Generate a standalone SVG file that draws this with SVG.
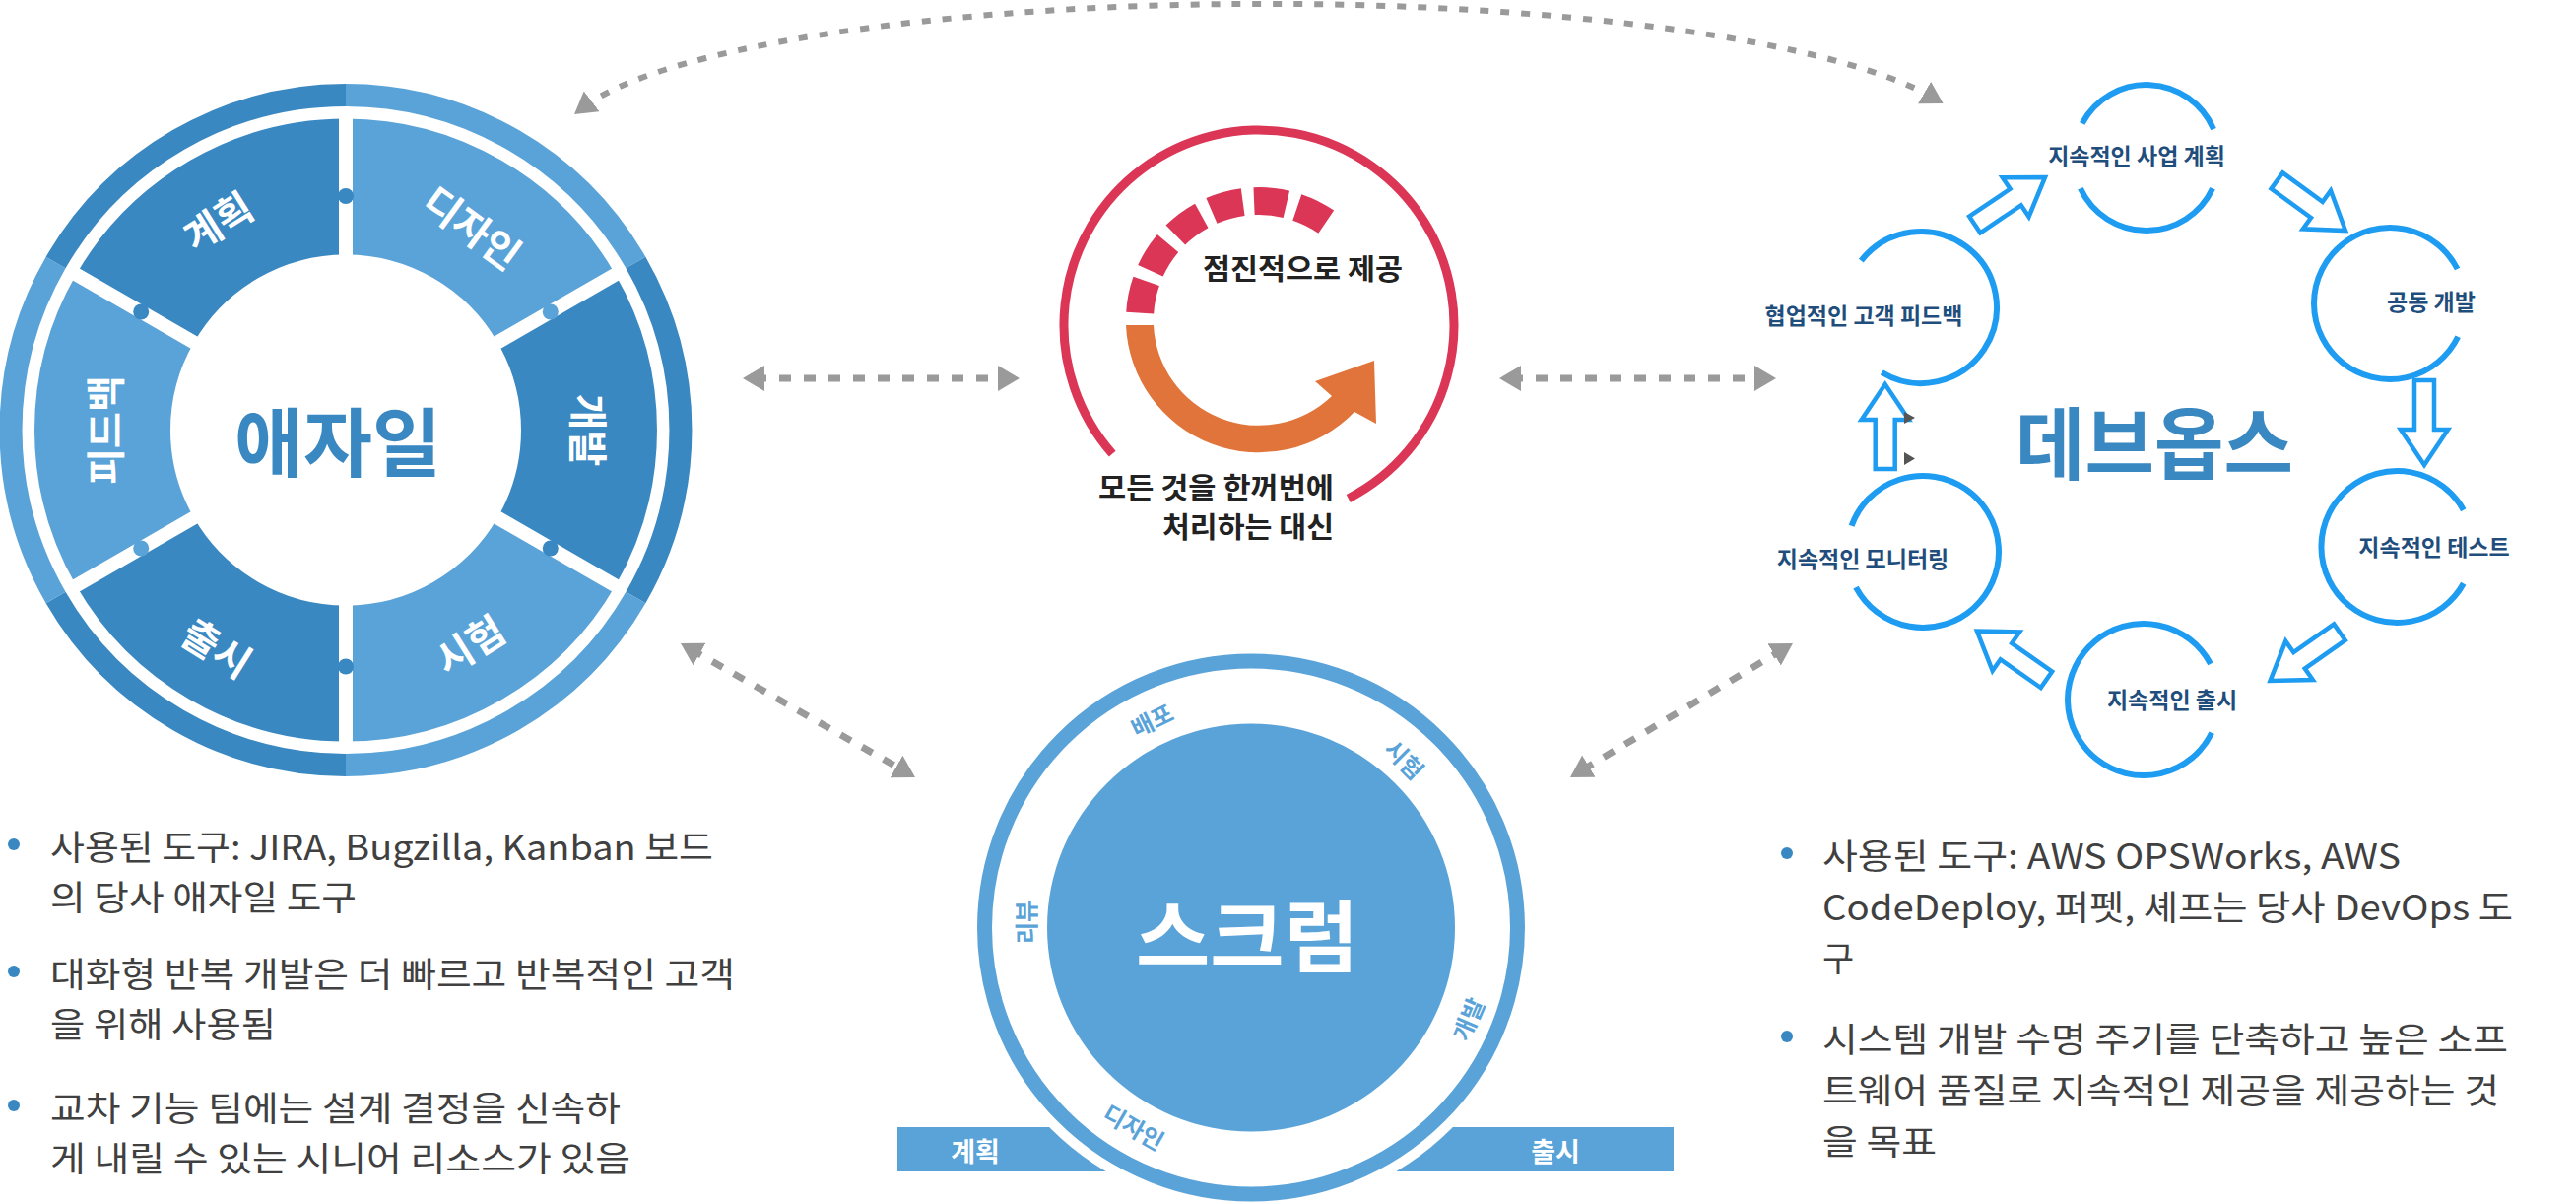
<svg xmlns="http://www.w3.org/2000/svg" xmlns:xlink="http://www.w3.org/1999/xlink" width="2615" height="1220" viewBox="0 0 2615 1220">
<style>
.k{font-family:"Noto Sans CJK KR","Noto Sans",sans-serif}
.b{font-weight:700}
.c{dominant-baseline:central;text-anchor:middle}
.dk{stroke:#3a88c2;fill:none}
.lt{stroke:#5aa3d8;fill:none}
.seg{stroke-width:138}
.ring{stroke-width:23}
.gap{stroke:#fff;stroke-width:14}
.wl{fill:#fff;font-size:40px}
.dash{fill:none;stroke:#9a9a9a;stroke-width:7;stroke-dasharray:12 13;marker-start:url(#ah);marker-end:url(#ah)}
.dv{fill:none;stroke:#1e9cf2;stroke-width:6}
.dl{fill:#1f4e7d;font-size:23px}
.ba{fill:#fff;stroke:#1e9cf2;stroke-width:4.5}
.sl{fill:#5aa3d9;font-size:24px}
.bt{fill:#404040;font-size:35px;dominant-baseline:central}
.bul{fill:#3a88c2}
.it{fill:#222;font-size:29px;dominant-baseline:central}
</style>
<defs>
<marker id="ah" viewBox="0 0 22 26" refX="10" refY="13" markerWidth="22" markerHeight="26" markerUnits="userSpaceOnUse" orient="auto-start-reverse"><path d="M0 0 L22 13 L0 26 Z" fill="#9a9a9a"/></marker>
<path id="barrow" d="M0 -10 L50 -10 L50 -24 L86 0 L50 24 L50 10 L0 10 Z"/>
</defs>

<g id="connectors">
<path class="dash" style="stroke-width:6;stroke-dasharray:9 12" d="M592.6 108.8 A715 140 0 0 1 1962.2 99.1"/>
<path class="dash" d="M766 384 L1023 384"/>
<path class="dash" d="M1534 384 L1791 384"/>
<path class="dash" d="M701.4 659 L918.6 783"/>
<path class="dash" d="M1809.7 659.2 L1604.3 782.8"/>
</g>

<g id="agile">
<path class="lt ring" d="M351 96.5 A340 340 0 0 1 645.4 266.5"/>
<path class="dk ring" d="M645.4 266.5 A340 340 0 0 1 645.4 606.5"/>
<path class="lt ring" d="M645.4 606.5 A340 340 0 0 1 351 776.5"/>
<path class="dk ring" d="M351 776.5 A340 340 0 0 1 56.6 606.5"/>
<path class="lt ring" d="M56.6 606.5 A340 340 0 0 1 56.6 266.5"/>
<path class="dk ring" d="M56.6 266.5 A340 340 0 0 1 351 96.5"/>
<path class="lt seg" d="M351 189.5 A247 247 0 0 1 564.9 313"/>
<path class="dk seg" d="M564.9 313 A247 247 0 0 1 564.9 560"/>
<path class="lt seg" d="M564.9 560 A247 247 0 0 1 351 683.5"/>
<path class="dk seg" d="M351 683.5 A247 247 0 0 1 137.1 560"/>
<path class="lt seg" d="M137.1 560 A247 247 0 0 1 137.1 313"/>
<path class="dk seg" d="M137.1 313 A247 247 0 0 1 351 189.5"/>
<g class="gap">
<line x1="351" y1="262" x2="351" y2="110"/>
<line x1="498.2" y1="351.5" x2="630" y2="275.5"/>
<line x1="498.2" y1="521.5" x2="630" y2="597.5"/>
<line x1="351" y1="611" x2="351" y2="763"/>
<line x1="203.8" y1="521.5" x2="72" y2="597.5"/>
<line x1="203.8" y1="351.5" x2="72" y2="275.5"/>
</g>
<circle cx="351" cy="199" r="8" fill="#3a88c2"/>
<circle cx="558.8" cy="316.5" r="8" fill="#5aa3d8"/>
<circle cx="558.8" cy="556.5" r="8" fill="#3a88c2"/>
<circle cx="351" cy="676.5" r="8" fill="#3a88c2"/>
<circle cx="143.2" cy="556.5" r="8" fill="#5aa3d8"/>
<circle cx="143.2" cy="316.5" r="8" fill="#3a88c2"/>
<text class="k b c wl" transform="translate(220.4 223.3) rotate(-32)">계획</text>
<text class="k b c wl" transform="translate(480.3 229.6) rotate(36)">디자인</text>
<text class="k b c wl" transform="translate(599 436.5) rotate(90)">개발</text>
<text class="k b c wl" transform="translate(476 653) rotate(-32)">시험</text>
<text class="k b c wl" transform="translate(221.2 656) rotate(32)">출시</text>
<text class="k b c wl" transform="translate(105 436.5) rotate(-90)">피드백</text>
<text class="k b c" x="343" y="445" font-size="76" fill="#3a88c2" textLength="210" lengthAdjust="spacingAndGlyphs">애자일</text>
</g>

<g id="incremental">
<path d="M1368.8 505.9 A198 198 0 1 0 1129.2 460.6" fill="none" stroke="#dc3656" stroke-width="9"/>
<path d="M1157.2 317.6 A121 121 0 0 1 1346.5 225.3" fill="none" stroke="#dc3656" stroke-width="28" stroke-dasharray="33 11.4"/>
<path d="M1143 330 A135 135 0 0 0 1375 418 L1397 430 L1395 366 L1335 387 L1352 402 A107 107 0 0 1 1171 330 Z" fill="#e1743a"/>
<text class="k b it" x="1221" y="271" textLength="203" lengthAdjust="spacingAndGlyphs">점진적으로 제공</text>
<text class="k b it" x="1354" y="493" text-anchor="end" textLength="239" lengthAdjust="spacingAndGlyphs">모든 것을 한꺼번에</text>
<text class="k b it" x="1354" y="533" text-anchor="end" textLength="174" lengthAdjust="spacingAndGlyphs">처리하는 대신</text>
</g>

<g id="devops">
<path class="dv" d="M2113.7 125.3 A74 74 0 0 1 2247.1 131.1"/>
<path class="dv" d="M2246.1 191.3 A74 74 0 0 1 2111.9 191.3"/>
<path class="dv" d="M2495.2 341.8 A77 77 0 1 1 2494.6 273"/>
<path class="dv" d="M2500.8 592.3 A77 77 0 1 1 2500.8 517.7"/>
<path class="dv" d="M2245.2 743.8 A77 77 0 1 1 2244 673.9"/>
<path class="dv" d="M1879.6 533.7 A77 77 0 1 1 1884 596.1"/>
<path class="dv" d="M1889.3 264.6 A77 77 0 1 1 1910.3 378"/>
<use href="#barrow" class="ba" transform="translate(2004.7 228) rotate(-34)"/>
<use href="#barrow" class="ba" transform="translate(2311.4 183.5) rotate(36)"/>
<use href="#barrow" class="ba" transform="translate(2461 386) rotate(90)"/>
<use href="#barrow" class="ba" transform="translate(2375 641.7) rotate(145)"/>
<use href="#barrow" class="ba" transform="translate(2077.4 689.8) rotate(-145)"/>
<use href="#barrow" class="ba" transform="translate(1913.7 476) rotate(-90)"/>
<polygon points="1933,418 1944,424 1933,430" fill="#555"/>
<polygon points="1933,459 1944,465.5 1933,472" fill="#555"/>
<text class="k b c dl" x="2169" y="157">지속적인 사업 계획</text>
<text class="k b c dl" x="2468" y="305">공동 개발</text>
<text class="k b c dl" x="2471" y="554">지속적인 테스트</text>
<text class="k b c dl" x="2205" y="709">지속적인 출시</text>
<text class="k b c dl" x="1891" y="566">지속적인 모니터링</text>
<text class="k b c dl" x="1892" y="319">협업적인 고객 피드백</text>
<text class="k b c" x="2187" y="445" font-size="80" fill="#3a88c2" textLength="282" lengthAdjust="spacingAndGlyphs">데브옵스</text>
</g>

<g id="scrum">
<rect x="911" y="1144" width="260" height="45" fill="#5aa3d9"/>
<rect x="1370" y="1144" width="329" height="45" fill="#5aa3d9"/>
<circle cx="1270" cy="941.5" r="288" fill="#fff"/>
<circle cx="1270" cy="941.5" r="270.5" fill="none" stroke="#5aa3d9" stroke-width="15"/>
<circle cx="1270" cy="941.5" r="207" fill="#5aa3d9"/>
<text class="k b c" x="1266" y="945" font-size="80" fill="#fff" textLength="226" lengthAdjust="spacingAndGlyphs">스크럼</text>
<text class="k b c sl" transform="translate(1169 730) rotate(-26)">배포</text>
<text class="k b c sl" transform="translate(1426.5 770) rotate(45)">시험</text>
<text class="k b c sl" transform="translate(1040.5 936) rotate(-90)">리뷰</text>
<text class="k b c sl" transform="translate(1489.5 1034) rotate(-67)">개발</text>
<text class="k b c sl" transform="translate(1151.5 1143) rotate(30)">디자인</text>
<text class="k b c" x="990" y="1167" font-size="27" fill="#fff">계획</text>
<text class="k b c" x="1579" y="1167" font-size="27" fill="#fff">출시</text>
</g>

<g id="agile-notes">
<circle class="bul" cx="14" cy="857" r="6"/>
<circle class="bul" cx="14" cy="986" r="6"/>
<circle class="bul" cx="14" cy="1122" r="6"/>
<text class="k bt" x="51" y="857" textLength="673" lengthAdjust="spacingAndGlyphs">사용된 도구: JIRA, Bugzilla, Kanban 보드</text>
<text class="k bt" x="51" y="908" textLength="311" lengthAdjust="spacingAndGlyphs">의 당사 애자일 도구</text>
<text class="k bt" x="51" y="986" textLength="695" lengthAdjust="spacingAndGlyphs">대화형 반복 개발은 더 빠르고 반복적인 고객</text>
<text class="k bt" x="51" y="1037" textLength="229" lengthAdjust="spacingAndGlyphs">을 위해 사용됨</text>
<text class="k bt" x="51" y="1122" textLength="579" lengthAdjust="spacingAndGlyphs">교차 기능 팀에는 설계 결정을 신속하</text>
<text class="k bt" x="51" y="1173" textLength="589" lengthAdjust="spacingAndGlyphs">게 내릴 수 있는 시니어 리소스가 있음</text>
</g>

<g id="devops-notes">
<circle class="bul" cx="1814" cy="866" r="6"/>
<circle class="bul" cx="1814" cy="1052" r="6"/>
<text class="k bt" x="1850" y="866" textLength="587" lengthAdjust="spacingAndGlyphs">사용된 도구: AWS OPSWorks, AWS</text>
<text class="k bt" x="1850" y="918" textLength="701" lengthAdjust="spacingAndGlyphs">CodeDeploy, 퍼펫, 셰프는 당사 DevOps 도</text>
<text class="k bt" x="1850" y="970">구</text>
<text class="k bt" x="1850" y="1052" textLength="696" lengthAdjust="spacingAndGlyphs">시스템 개발 수명 주기를 단축하고 높은 소프</text>
<text class="k bt" x="1850" y="1104" textLength="687" lengthAdjust="spacingAndGlyphs">트웨어 품질로 지속적인 제공을 제공하는 것</text>
<text class="k bt" x="1850" y="1156" textLength="116" lengthAdjust="spacingAndGlyphs">을 목표</text>
</g>
</svg>
